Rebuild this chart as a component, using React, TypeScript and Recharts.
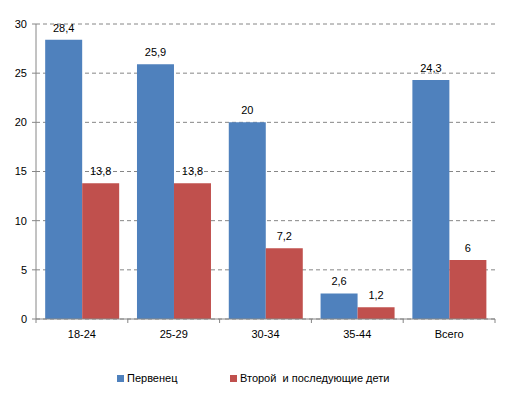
import { Bar, BarChart, CartesianGrid, LabelList, XAxis, YAxis } from 'recharts';

const categories = ['18-24', '25-29', '30-34', '35-44', 'Всего'];
const firstborn = [28.4, 25.9, 20, 2.6, 24.3];
const laterChildren = [13.8, 13.8, 7.2, 1.2, 6];
const yTicks = [0, 5, 10, 15, 20, 25, 30];

const SERIES = [
  { key: 'first', name: 'Первенец', color: '#4F81BD' },
  { key: 'later', name: 'Второй  и последующие дети', color: '#C0504D' },
];

const data = categories.map((c, i) => ({ cat: c, first: firstborn[i], later: laterChildren[i] }));

const WIDTH = 510;
const HEIGHT = 399;
const Y_WIDTH = 36;
const X_HEIGHT = 30;
const MARGIN = { top: 24, right: 15, left: 0, bottom: 80 - X_HEIGHT };
const AXIS = '#868686';
const FONT = '"Liberation Sans", Arial, sans-serif';
const halfBand = (WIDTH - Y_WIDTH - MARGIN.right) / categories.length / 2;

const fmt = (v: unknown) => String(v).replace('.', ',');

function XTick(props: any) {
  const { x, y, payload, index } = props;
  const last = index === categories.length - 1;
  return (
    <g>
      <line x1={x - halfBand} x2={x - halfBand} y1={y} y2={y + 4} stroke={AXIS} />
      {last && <line x1={x + halfBand} x2={x + halfBand} y1={y} y2={y + 4} stroke={AXIS} />}
      <text x={x} y={y + 19} textAnchor="middle" fontSize={11} fontFamily={FONT} fill="#000">
        {payload.value}
      </text>
    </g>
  );
}

function LegendBox() {
  return (
    <div
      style={{
        position: 'absolute',
        left: 117,
        top: 372,
        display: 'flex',
        fontFamily: FONT,
        fontSize: 11,
        color: '#000',
      }}
    >
      {SERIES.map((s) => (
        <div key={s.key} style={{ display: 'flex', alignItems: 'center', minWidth: 113, whiteSpace: 'pre' }}>
          <span
            style={{ display: 'inline-block', flexShrink: 0, width: 7, height: 7, background: s.color, marginRight: 3 }}
          />
          {s.name}
        </div>
      ))}
    </div>
  );
}

export default function App() {
  return (
    <div style={{ position: 'absolute', left: 0, top: 0, width: WIDTH, height: HEIGHT, background: '#fff' }}>
      <BarChart width={WIDTH} height={HEIGHT} data={data} margin={MARGIN} barCategoryGap="10%" barGap={0}>
        <CartesianGrid vertical={false} stroke={AXIS} strokeDasharray="4 3" />
        <XAxis
          dataKey="cat"
          height={X_HEIGHT}
          stroke={AXIS}
          tickLine={false}
          tickSize={0}
          tickMargin={0}
          tick={<XTick />}
          interval={0}
        />
        <YAxis
          domain={[0, 30]}
          ticks={yTicks}
          stroke={AXIS}
          tickSize={4}
          tickMargin={5}
          width={Y_WIDTH}
          tick={{ fontSize: 11, fill: '#000', fontFamily: FONT }}
        />
        {SERIES.map((s) => (
          <Bar key={s.key} dataKey={s.key} name={s.name} fill={s.color} isAnimationActive={false}>
            <LabelList
              dataKey={s.key}
              position="top"
              offset={8}
              formatter={fmt}
              style={{ fontSize: 11, fill: '#000', fontFamily: FONT }}
            />
          </Bar>
        ))}
      </BarChart>
      <LegendBox />
    </div>
  );
}
